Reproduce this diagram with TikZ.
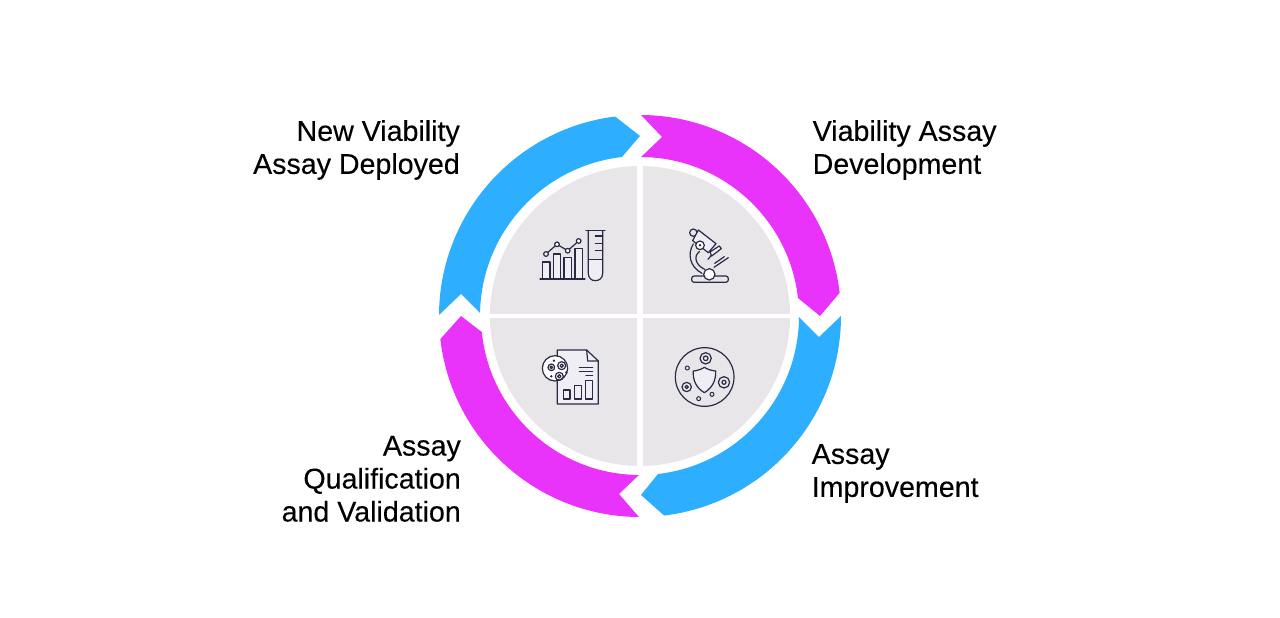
\documentclass[tikz,border=0pt]{standalone}
\usepackage{fontspec}
\setmainfont{Liberation Sans}[FakeBold=0.25]
\definecolor{ringblue}{HTML}{2EAEFF}
\definecolor{ringmag}{HTML}{E933FB}
\definecolor{quad}{HTML}{E8E6E9}
\definecolor{ink}{HTML}{2B2A45}
\definecolor{glass}{HTML}{EFEEF5}
\tikzset{
  lab/.style={font=\fontsize{28.6}{33}\addfontfeature{FakeBold=0.25}\selectfont,text=black,inner sep=0pt},
  labl/.style={lab,align=right},
  labr/.style={lab,align=left},
  ic/.style={draw=ink,line width=1.2pt,line join=round,line cap=round},
  icf/.style={ic,fill=glass},
  icon/.style={x=0.33333pt,y=-0.33333pt},
}
\begin{document}
\begin{tikzpicture}[x=1pt,y=1pt]
\useasboundingbox (-640,-302) rectangle (640,316);
\fill[white] (-640,-302) rectangle (640,316);
% grey quadrants
\begin{scope}
\clip (0,0) circle[radius=150];
\fill[quad] (-160,2) rectangle (-2.5,160);
\fill[quad] (3,2) rectangle (160,160);
\fill[quad] (-160,-2.5) rectangle (-2.5,-160);
\fill[quad] (3,-2.5) rectangle (160,-160);
\end{scope}
% ring arrows
\fill[ringblue] (179.7:201) arc[start angle=179.7,end angle=97.1,radius=201] -- (0,180) -- (96.5:160) arc[start angle=96.5,end angle=178.9,radius=160] -- (-179,22) -- cycle;
\fill[ringmag] (89.7:201) arc[start angle=89.7,end angle=6.6,radius=201] -- (180,0) -- (6.5:159) arc[start angle=6.5,end angle=89.6,radius=159] -- (22,179) -- cycle;
\fill[ringblue] (0:201) arc[start angle=0,end angle=-83.1,radius=201] -- (1,-179) -- (-83.5:159) arc[start angle=-83.5,end angle=-0.4,radius=159] -- (179,-21) -- cycle;
\fill[ringmag] (269.7:201) arc[start angle=269.7,end angle=186.6,radius=201] -- (-179,0) -- (185.8:159) arc[start angle=185.8,end angle=269.6,radius=159] -- (-21,-178) -- cycle;
% labels
\node[labl,anchor=south east] (newv) at (-180,136) {New Viability\\Assay Deployed};
\node[labr,anchor=south west] (dev) at (172.5,136) {Viability Assay\\Development};
\node[labl,anchor=south east] (qual) at (-179,-206) {Assay\\Qualification\\and Validation};
\node[labr,anchor=south west] (impr) at (171.5,-187) {Assay\\Improvement};
% icon: chart and tube
\begin{scope}[xshift=-120pt,yshift=106pt,icon]
\draw[icf] (68,205) -- (68,156) -- (90,156) -- (90,205);
\draw[icf] (100,205) -- (100,132) -- (122,132) -- (122,205);
\draw[icf] (132,205) -- (132,143) -- (155,143) -- (155,205);
\draw[icf] (165,205) -- (165,116) -- (187,116) -- (187,205);
\draw[ic] (60,207) -- (195,207);
\draw[ic] (78,132) -- (111,103) -- (143,122) -- (176,93);
\foreach \p in {(78,132),(111,103),(143,122),(176,93)} \draw[ic,fill=white] \p circle[radius=7];
\draw[ic,fill=glass] (205,62) -- (205,190) .. controls (205,204) and (214,212) .. (226,212) .. controls (238,212) and (248,204) .. (248,190) -- (248,62);
\draw[ic,fill=quad] (205,62) -- (205,148) -- (248,148) -- (248,62);
\draw[ic] (198,62) -- (255,62);
\draw[ic] (226,78) -- (248,78) (226,100) -- (248,100) (226,122) -- (248,122);
\end{scope}
% icon: microscope
\begin{scope}[xshift=20pt,yshift=106pt,icon]
\draw[ic,rounded corners=2.5pt] (95,198) rectangle (205,217);
\draw[ic] (100,102) .. controls (82,130) and (88,170) .. (126,190);
\draw[ic] (118,125) .. controls (100,138) and (106,165) .. (134,178);
\draw[ic,fill=white] (148,193) circle[radius=17];
\draw[ic,fill=quad] (100,68) circle[radius=11];
\draw[icf] (115,60) -- (168,101) -- (145,128) -- (98,92) -- cycle;
\draw[icf] (150,126) -- (178,108) -- (184,116) -- (155,138) -- cycle;
\draw[ic] (144,148) -- (154,136);
\draw[ic,fill=white] (120,106) circle[radius=13];
\fill[ink] (120,106) circle[radius=4];
\draw[ic] (162,172) -- (205,143);
\draw[ic] (164,160) -- (193,140);
\end{scope}
% icon: report with cells
\begin{scope}[xshift=-120pt,yshift=-19pt,icon]
\draw[icf] (112,45) -- (200,45) -- (235,78) -- (235,207) -- (112,207) -- cycle;
\draw[ic] (200,45) -- (203,78) -- (235,78);
\draw[ic] (130,165) rectangle (150,192);
\draw[ic] (163,152) rectangle (185,192);
\draw[ic] (196,137) rectangle (218,192);
\draw[ic] (178,97) -- (218,97) (178,110) -- (218,110) (198,122) -- (218,122);
\draw[ic,fill=white] (105,100) circle[radius=38];
\draw[ic] (125,92) circle[radius=12] (125,92) circle[radius=5];
\draw[ic] (94,97) circle[radius=10] (94,97) circle[radius=4];
\draw[ic] (118,124) circle[radius=12] (118,124) circle[radius=5];
\fill[ink] (102,77) circle[radius=4] (94,124) circle[radius=4] (139,112) circle[radius=4];
\end{scope}
% icon: cell with shield
\begin{scope}[xshift=20pt,yshift=-19pt,icon]
\draw[ic,fill=quad] (134,126) circle[radius=88];
\draw[ic] (137,70) circle[radius=17] (137,70) circle[radius=7];
\draw[ic] (192,142) circle[radius=17] (192,142) circle[radius=6];
\draw[ic] (80,156) circle[radius=14] (80,156) circle[radius=5];
\draw[ic,line width=1pt] (82,99) circle[radius=6] (116,191) circle[radius=6] (156,178) circle[radius=6];
\draw[icf] (100,108) .. controls (112,107) and (124,103) .. (133,97) .. controls (142,103) and (155,107) .. (167,108) .. controls (168,135) and (158,158) .. (133,173) .. controls (108,158) and (98,135) .. (100,108) -- cycle;
\end{scope}
\end{tikzpicture}
\end{document}
